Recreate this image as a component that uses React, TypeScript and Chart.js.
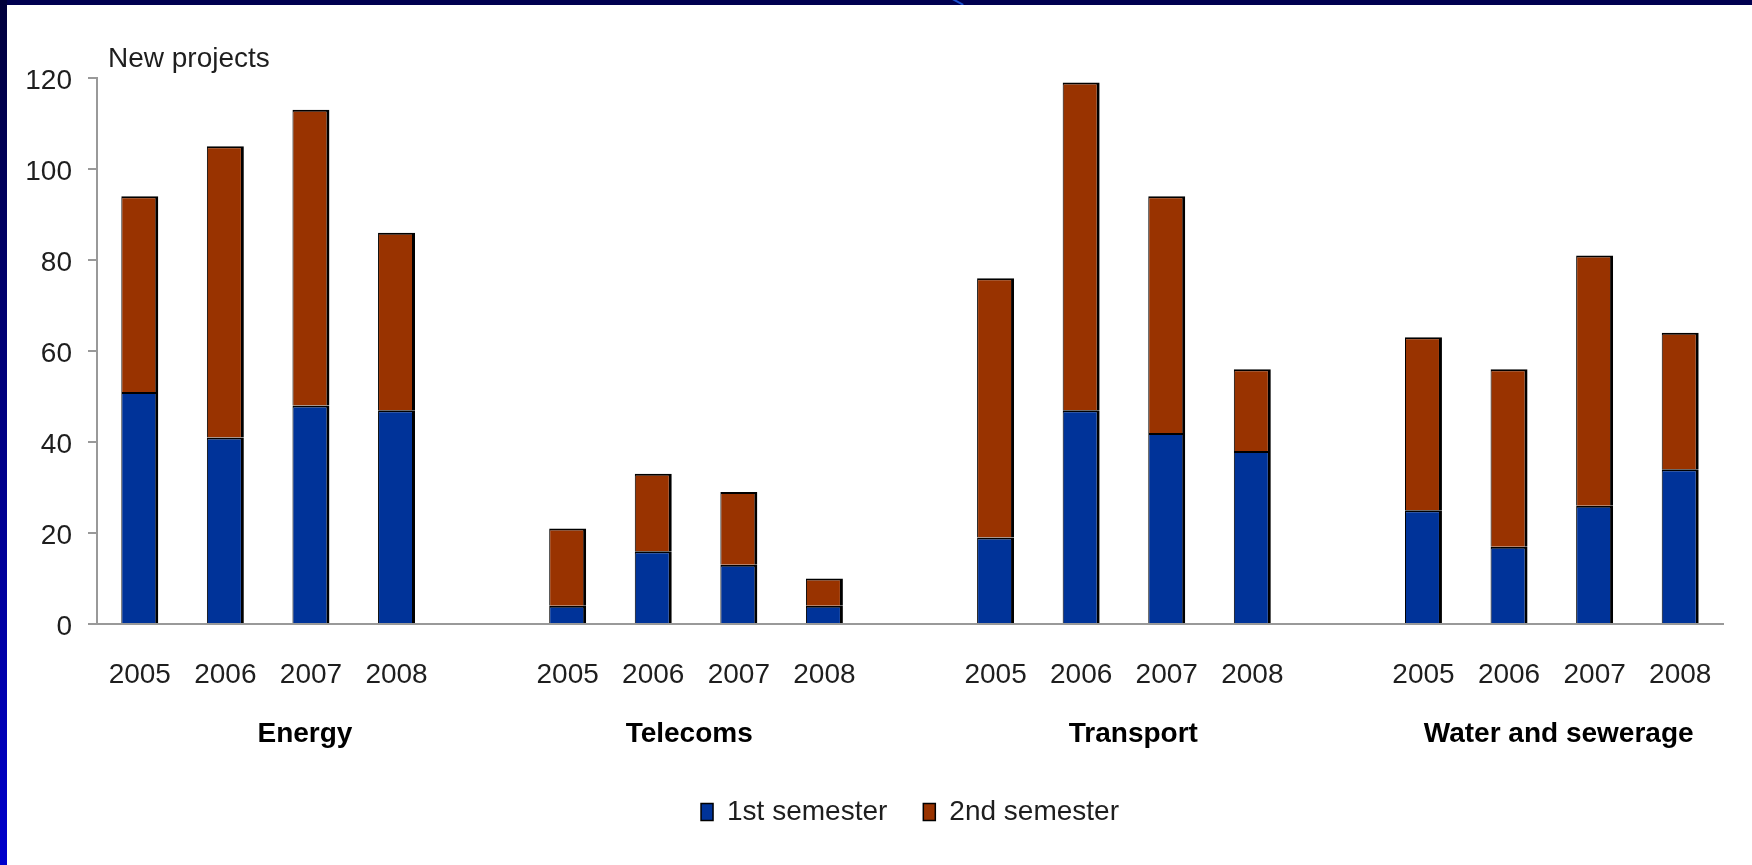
import React, { useEffect, useRef } from "react";
import { Chart, registerables } from "chart.js";

Chart.register(...registerables);

// ---- data ----
const yearLabels = [
  "2005", "2006", "2007", "2008", "",
  "2005", "2006", "2007", "2008", "",
  "2005", "2006", "2007", "2008", "",
  "2005", "2006", "2007", "2008",
];
const firstSemester = [51, 41, 48, 47, null, 4, 16, 13, 4, null, 19, 47, 42, 38, null, 25, 17, 26, 34];
const secondSemester = [43, 64, 65, 39, null, 17, 17, 16, 6, null, 57, 72, 52, 18, null, 38, 39, 55, 30];
const sectorNames = ["Energy", "Telecoms", "Transport", "Water and sewerage"];
const sectorLabelIndex = [1.93, 6.42, 11.61, 16.58];
const seriesNames = ["1st semester", "2nd semester"];
const yAxisTitle = "New projects";
const yMin = 0;
const yMax = 120;
const yStep = 20;

const FONT = '"Liberation Sans", Arial, sans-serif';
const FONT_SIZE = 28;
const TEXT = "#1e1e1e";
const BLUE = "#003399";
const BROWN = "#993300";

const annotationsPlugin = {
  id: "extraText",
  afterDraw(chart: any) {
    const { ctx, chartArea, scales } = chart;
    const x = scales.x;
    ctx.save();
    ctx.fillStyle = "#000000";
    ctx.font = `bold ${FONT_SIZE}px ${FONT}`;
    ctx.textAlign = "center";
    ctx.textBaseline = "middle";
    sectorNames.forEach((name, i) => {
      ctx.fillText(name, x.getPixelForValue(sectorLabelIndex[i]), chartArea.bottom + 110);
    });
    ctx.fillStyle = TEXT;
    ctx.font = `${FONT_SIZE}px ${FONT}`;
    ctx.textAlign = "left";
    ctx.fillText(yAxisTitle, chartArea.left + 11, chartArea.top - 19);
    ctx.restore();
  },
};

export default function App() {
  const canvasRef = useRef<HTMLCanvasElement | null>(null);

  useEffect(() => {
    document.body.style.margin = "0";
    const canvas = canvasRef.current;
    if (!canvas) return;
    const chart = new Chart(canvas, {
      type: "bar",
      data: {
        labels: yearLabels,
        datasets: [
          {
            label: seriesNames[0],
            data: firstSemester,
            backgroundColor: BLUE,
            borderColor: "#000000",
            borderWidth: { top: 2, left: 1, right: 3, bottom: 0 },
            borderSkipped: false,
          },
          {
            label: seriesNames[1],
            data: secondSemester,
            backgroundColor: BROWN,
            borderColor: "#000000",
            borderWidth: { top: 2, left: 1, right: 3, bottom: 0 },
            borderSkipped: false,
          },
        ],
      },
      options: {
        responsive: false,
        animation: false,
        layout: { padding: { top: 78, right: 29, bottom: 29, left: 0 } },
        datasets: {
          bar: { barPercentage: 0.432, categoryPercentage: 1 },
        },
        plugins: {
          tooltip: { enabled: false },
          title: { display: false },
          legend: {
            display: true,
            position: "bottom",
            fullSize: false,
            labels: {
              font: { family: FONT, size: FONT_SIZE },
              color: TEXT,
              boxWidth: 12,
              boxHeight: 17,
              padding: 36,
            },
          },
        },
        scales: {
          x: {
            stacked: true,
            offset: true,
            grid: { display: true, drawOnChartArea: false, drawTicks: false },
            border: { display: true, color: "#999999", width: 2 },
            ticks: {
              font: { family: FONT, size: FONT_SIZE },
              color: TEXT,
              padding: 34,
              autoSkip: false,
              maxRotation: 0,
            },
            afterFit: (scale: any) => {
              scale.height = 138;
            },
          },
          y: {
            stacked: true,
            min: yMin,
            max: yMax,
            grid: { drawOnChartArea: false, drawTicks: true, tickLength: 9, color: "#999999", lineWidth: 2 },
            border: { display: true, color: "#999999", width: 2 },
            ticks: {
              stepSize: yStep,
              font: { family: FONT, size: FONT_SIZE },
              color: TEXT,
              padding: 16,
              labelOffset: 3,
            },
            afterFit: (scale: any) => {
              scale.width = 97;
            },
          },
        },
      },
      plugins: [annotationsPlugin],
    });
    return () => chart.destroy();
  }, []);

  return (
    <div style={{ position: "relative", width: 1752, height: 865, background: "#ffffff", overflow: "hidden" }}>
      <canvas ref={canvasRef} width={1752} height={865} style={{ display: "block" }} />
      <div
        style={{
          position: "absolute",
          left: 0,
          top: 0,
          width: 1752,
          height: 5,
          background: "#000050",
          overflow: "hidden",
        }}
      >
        <div
          style={{
            position: "absolute",
            left: 952,
            top: 1,
            width: 12,
            height: 2,
            background: "#1a4fd0",
            transform: "rotate(28deg)",
          }}
        />
      </div>
      <div
        style={{
          position: "absolute",
          left: 0,
          top: 0,
          width: 7,
          height: 865,
          background: "linear-gradient(to bottom, #00003c, #0000cc)",
        }}
      />
    </div>
  );
}
